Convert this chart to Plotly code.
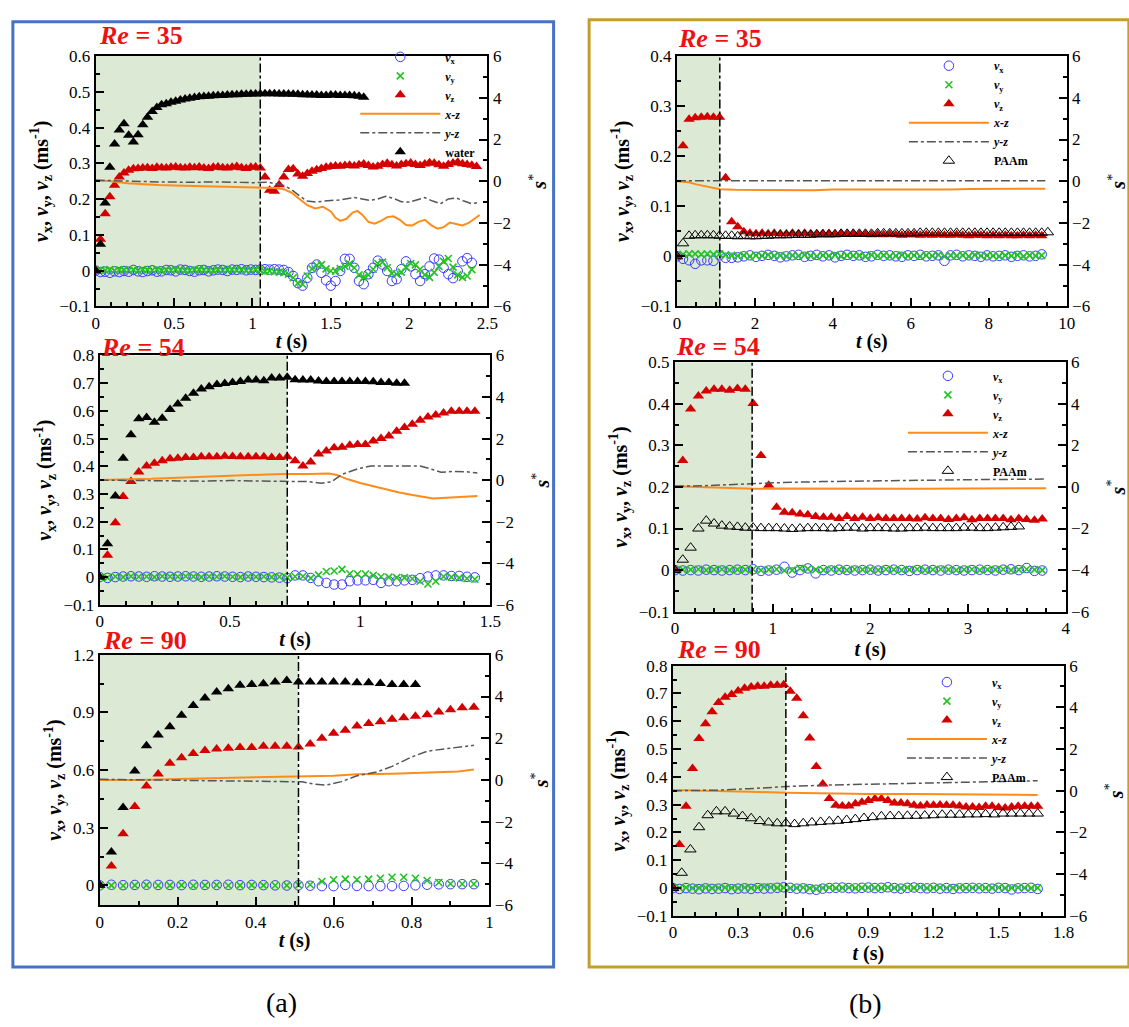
import plotly.graph_objects as go

W, H = 1129, 1027
FONT = "Liberation Serif"

# ======================= DATA =======================
# ---- (a) water, Re = 35 ----
a35_dt = 0.03
a35_water = [0, 0.074, 0.189, 0.289, 0.354, 0.393, 0.411, 0.379, 0.360, 0.380, 0.408,
             0.429, 0.445, 0.456, 0.464, 0.467, 0.471, 0.474, 0.477, 0.480, 0.482,
             0.484, 0.486, 0.487, 0.488, 0.489, 0.490, 0.490, 0.491, 0.492, 0.492,
             0.493, 0.493, 0.494, 0.494, 0.495, 0.495, 0.495, 0.495, 0.494, 0.494,
             0.494, 0.493, 0.493, 0.492, 0.492, 0.491, 0.491, 0.490, 0.490, 0.491,
             0.491, 0.490, 0.490, 0.490, 0.489, 0.488, 0.485]
a35_vz = [0, 0.088, 0.159, 0.207, 0.239, 0.262, 0.273, 0.281, 0.285, 0.286,
          0.287, 0.288, 0.286, 0.289, 0.288, 0.287, 0.289, 0.290, 0.288, 0.287,
          0.289, 0.288, 0.290, 0.287, 0.286, 0.289, 0.290, 0.288, 0.287, 0.289,
          0.291, 0.288, 0.286, 0.289, 0.290, 0.287,
          0.262, 0.225, 0.222, 0.240, 0.262, 0.283, 0.285, 0.270, 0.264,
          0.272, 0.278, 0.282, 0.286, 0.289, 0.291, 0.293, 0.292, 0.294, 0.295,
          0.293, 0.296, 0.298, 0.294, 0.290, 0.292, 0.297, 0.300, 0.296, 0.293,
          0.297, 0.299, 0.301, 0.297, 0.294, 0.298, 0.302, 0.300, 0.296, 0.292,
          0.297, 0.301, 0.303, 0.299, 0.297, 0.295, 0.291]
a35_vx = [0, -0.004, -0.003, -0.006, -0.002, -0.004, -0.001, -0.003, 0.002, -0.002,
          -0.004, -0.001, 0.001, -0.003, -0.002, 0.002, 0.001, -0.002, 0.003, 0.002,
          -0.001, -0.003, 0.001, 0.002, -0.002, 0.001, 0.003, 0.002, -0.001, 0.003,
          0.002, 0.004, 0.001, 0.003, 0.002, 0.003, 0.004, 0.003, 0.004, 0.003,
          0.002, -0.004, -0.015, -0.035, -0.042, -0.020, 0.008, 0.017, -0.006, -0.027,
          -0.042, -0.029, -0.001, 0.033, 0.033, 0.008, -0.029, -0.038, -0.010, 0.008,
          0.028, 0.017, -0.001, -0.029, -0.024, 0.004, 0.026, 0.012, -0.010, -0.029,
          -0.010, 0.012, 0.034, 0.031, 0.008, -0.010, -0.021, -0.001, 0.026, 0.035, 0.022]
a35_vy = [0, 0.002, 0.001, 0.003, 0.000, 0.002, 0.003, 0.001, 0.002, 0.000,
          0.003, 0.002, 0.001, 0.003, 0.000, 0.002, 0.001, 0.003, 0.002, 0.000,
          0.001, 0.002, 0.003, 0.001, 0.002, 0.000, 0.003, 0.001, 0.002, 0.003,
          0.001, 0.002, 0.000, 0.001, 0.003, 0.002, -0.002, -0.001, -0.003, -0.004,
          -0.006, -0.010, -0.020, -0.035, -0.038, -0.015, 0.005, 0.015, 0.017, 0.005,
          -0.001, -0.001, 0.006, 0.012, 0.019, 0.008, -0.012, -0.019, -0.012, 0.004,
          0.020, 0.024, 0.008, -0.008, -0.010, -0.004, 0.010, 0.020, 0.016, 0.004,
          -0.012, -0.019, -0.005, 0.012, 0.026, 0.034, 0.010, -0.012, -0.019, -0.015, 0.003]
a35_xz_t = [0, 0.1, 0.2, 0.3, 0.4, 0.5, 0.6, 0.7, 0.8, 0.9, 1.0, 1.05, 1.1, 1.15, 1.2,
            1.25, 1.3, 1.35, 1.4, 1.45, 1.5, 1.53, 1.56, 1.6, 1.64, 1.67, 1.7, 1.74,
            1.78, 1.82, 1.86, 1.9, 1.94, 1.98, 2.02, 2.06, 2.1, 2.14, 2.18, 2.22,
            2.26, 2.3, 2.34, 2.38, 2.42, 2.45]
a35_xz = [0.05, 0.0, -0.10, -0.15, -0.18, -0.20, -0.22, -0.24, -0.26, -0.28, -0.30,
          -0.30, -0.30, -0.32, -0.38, -0.55, -0.85, -1.15, -1.30, -1.22, -1.45, -1.75,
          -1.90, -1.80, -1.50, -1.42, -1.60, -1.95, -2.03, -1.90, -1.72, -1.68, -1.85,
          -2.10, -2.12, -1.95, -1.85, -2.10, -2.27, -2.20, -1.98, -2.05, -2.12, -2.00,
          -1.78, -1.62]
a35_yz_t = [0, 0.2, 0.4, 0.6, 0.8, 1.0, 1.1, 1.2, 1.25, 1.3, 1.35, 1.4, 1.45, 1.5,
            1.55, 1.6, 1.65, 1.7, 1.75, 1.8, 1.85, 1.9, 1.95, 2.0, 2.05, 2.1, 2.15,
            2.2, 2.25, 2.3, 2.35, 2.4, 2.45]
a35_yz = [0.05, 0.0, -0.03, -0.05, -0.03, -0.07, -0.05, -0.20, -0.40, -0.70, -0.95,
          -1.00, -0.95, -0.92, -0.90, -0.85, -0.78, -0.85, -0.92, -0.85, -0.72, -0.82,
          -0.98, -1.00, -0.90, -0.78, -0.95, -1.08, -0.85, -0.80, -0.95, -1.08, -1.00]
a35_tv = 1.05

# ---- (a) water, Re = 54 ----
a54_dt = 0.03
a54_water = [0, 0.120, 0.293, 0.429, 0.514, 0.572, 0.576, 0.559, 0.573, 0.605, 0.625,
             0.646, 0.664, 0.679, 0.687, 0.695, 0.699, 0.702, 0.706, 0.711, 0.711,
             0.709, 0.719, 0.719, 0.721, 0.712, 0.711, 0.711, 0.708, 0.706, 0.706,
             0.706, 0.706, 0.706, 0.706, 0.705, 0.702, 0.702, 0.700, 0.700]
a54_vz = [0, 0.079, 0.196, 0.291, 0.345, 0.379, 0.401, 0.411, 0.420, 0.427, 0.429,
          0.432, 0.432, 0.434, 0.434, 0.434, 0.436, 0.435, 0.434, 0.434, 0.434,
          0.434, 0.432, 0.432, 0.434, 0.420, 0.401, 0.415, 0.444, 0.455, 0.467,
          0.469, 0.476, 0.479, 0.479, 0.491, 0.500, 0.509, 0.526, 0.540, 0.552,
          0.566, 0.578, 0.585, 0.592, 0.599, 0.599, 0.599, 0.599]
a54_vx = [0, -0.003, 0.000, 0.002, 0.003, 0.002, 0.001, 0.003, 0.002, 0.001, 0.002,
          0.003, 0.002, 0.001, 0.002, 0.003, 0.002, 0.001, 0.000, 0.002, 0.001, 0.000,
          -0.001, -0.002, -0.004, 0.006, 0.006, -0.003, -0.015, -0.021, -0.027, -0.027,
          -0.015, -0.012, -0.012, -0.010, -0.021, -0.015, -0.015, -0.012, -0.010,
          -0.004, 0.002, 0.006, 0.006, 0.004, 0.004, 0.001, -0.001]
a54_vy = [0, -0.002, 0.002, 0.000, 0.003, 0.001, 0.002, 0.000, 0.003, 0.002, 0.001,
          0.003, 0.002, 0.000, 0.002, 0.001, 0.003, 0.001, 0.000, 0.002, 0.001, 0.002,
          0.000, 0.001, -0.002, 0.002, 0.003, -0.004, 0.008, 0.020, 0.022, 0.028,
          0.012, 0.011, 0.011, 0.006, 0.001, 0.000, -0.002, -0.002, -0.006, -0.015,
          -0.025, -0.015, 0.002, 0.000, -0.003, -0.005, -0.008]
a54_xz_t = [0, 0.1, 0.2, 0.3, 0.4, 0.5, 0.6, 0.7, 0.8, 0.85, 0.88, 0.91, 0.95, 1.0,
            1.05, 1.1, 1.15, 1.2, 1.25, 1.28, 1.33, 1.39, 1.45]
a54_xz = [0.0, 0.02, 0.06, 0.12, 0.17, 0.20, 0.25, 0.30, 0.30, 0.32, 0.32, 0.25, 0.05,
          -0.14, -0.30, -0.45, -0.60, -0.72, -0.84, -0.88, -0.85, -0.80, -0.76]
a54_yz_t = [0, 0.2, 0.4, 0.5, 0.6, 0.7, 0.8, 0.85, 0.89, 0.93, 0.99, 1.04, 1.1, 1.17,
            1.23, 1.27, 1.31, 1.36, 1.41, 1.45]
a54_yz = [0.0, -0.03, -0.05, -0.02, -0.05, -0.06, -0.07, -0.15, -0.08, 0.28, 0.54,
          0.68, 0.68, 0.68, 0.68, 0.54, 0.38, 0.42, 0.40, 0.34]
a54_tv = 0.72

# ---- (a) water, Re = 90 ----
a90_dt = 0.03
a90_water = [0, 0.173, 0.405, 0.595, 0.727, 0.783, 0.825, 0.885, 0.936, 0.975, 1.007,
             1.024, 1.041, 1.046, 1.049, 1.059, 1.066, 1.059, 1.059, 1.059, 1.058,
             1.058, 1.054, 1.054, 1.051, 1.046, 1.046, 1.046]
a90_vz = [0, 0.100, 0.269, 0.410, 0.517, 0.580, 0.636, 0.664, 0.686, 0.702, 0.710,
          0.714, 0.717, 0.717, 0.724, 0.724, 0.724, 0.720, 0.736, 0.766, 0.792, 0.808,
          0.829, 0.842, 0.851, 0.864, 0.873, 0.880, 0.888, 0.902, 0.914, 0.924, 0.927]
a90_vx = [0, 0.003, 0.001, 0.002, 0.003, 0.002, 0.002, 0.001, 0.003, 0.002, 0.002,
          0.003, 0.001, 0.002, 0.001, 0.000, -0.001, 0.000, -0.002, -0.004, -0.004,
          0.002, -0.003, -0.004, -0.004, -0.004, -0.003, 0.000, 0.003, 0.005, 0.006,
          0.006, 0.006]
a90_vy = [0, 0.000, -0.002, 0.000, 0.001, -0.001, 0.000, 0.001, -0.002, 0.000, 0.001,
          -0.001, 0.000, 0.001, 0.000, -0.001, 0.000, 0.001, 0.003, 0.020, 0.029, 0.032,
          0.029, 0.032, 0.037, 0.042, 0.042, 0.037, 0.025, 0.015, 0.008, 0.007, 0.007]
a90_xz_t = [0, 0.1, 0.2, 0.3, 0.4, 0.5, 0.6, 0.66, 0.75, 0.84, 0.92, 0.96]
a90_xz = [0.0, 0.0, 0.05, 0.10, 0.13, 0.17, 0.20, 0.27, 0.30, 0.34, 0.41, 0.50]
a90_yz_t = [0, 0.2, 0.4, 0.5, 0.52, 0.55, 0.58, 0.62, 0.66, 0.71, 0.75, 0.80, 0.84,
            0.89, 0.96]
a90_yz = [0.03, -0.03, -0.08, -0.09, -0.09, -0.20, -0.25, -0.08, 0.20, 0.38, 0.65,
          1.10, 1.38, 1.50, 1.66]
a90_tv = 0.51

# ---- (b) PAAm, Re = 35 ----
b35_dt = 0.156
b35_paam = [0, 0.026, 0.041, 0.042, 0.042, 0.042, 0.042, 0.041, 0.041, 0.041, 0.040,
            0.041, 0.040, 0.040, 0.041, 0.041, 0.042, 0.042, 0.042, 0.043, 0.043,
            0.043, 0.043, 0.044, 0.044, 0.044, 0.044, 0.045, 0.045, 0.045, 0.045,
            0.045, 0.045, 0.046, 0.046, 0.046, 0.046, 0.046, 0.046, 0.046, 0.047,
            0.047, 0.047, 0.047, 0.047, 0.047, 0.047, 0.047, 0.047, 0.047, 0.047,
            0.047, 0.047, 0.047, 0.047, 0.047, 0.047, 0.047, 0.047, 0.047, 0.047, 0.048]
b35_vz = [0, 0.221, 0.274, 0.277, 0.278, 0.279, 0.278, 0.278, 0.157, 0.069, 0.059,
          0.049, 0.046, 0.045, 0.046, 0.045, 0.046, 0.045, 0.045, 0.046, 0.045, 0.046,
          0.045, 0.044, 0.045, 0.045, 0.044, 0.045, 0.044, 0.045, 0.044, 0.044,
          0.043, 0.044, 0.043, 0.044, 0.043, 0.042, 0.043, 0.043, 0.042, 0.043,
          0.042, 0.043, 0.042, 0.042, 0.043, 0.042, 0.041, 0.042, 0.042, 0.041,
          0.042, 0.041, 0.042, 0.041, 0.041, 0.042, 0.041, 0.042, 0.041]
b35_vx = [0, -0.005, -0.008, -0.015, -0.008, -0.008, -0.009, 0.002, -0.003, -0.003,
          -0.002, 0.000, 0.002, -0.001, 0.001, 0.003, 0.001, -0.002, 0.000, 0.002,
          0.003, -0.001, 0.001, 0.003, 0.000, 0.002, -0.002, 0.001, 0.003, 0.001,
          0.002, -0.001, 0.000, 0.003, 0.001, 0.002, 0.000, -0.001, 0.002, 0.001,
          0.003, 0.000, 0.001, 0.002, -0.009, 0.002, 0.003, 0.000, 0.002, 0.001,
          -0.001, 0.002, 0.000, 0.001, 0.002, -0.001, 0.001, 0.002, 0.000, 0.001, 0.004]
b35_vy = [0, 0.004, 0.005, 0.005, 0.004, 0.005, 0.004, 0.005, 0.003, 0.002, 0.001,
          0.002, 0.000, 0.002, 0.001, 0.003, 0.001, 0.002, 0.000, 0.002, 0.001, 0.003,
          0.001, 0.000, 0.002, 0.001, 0.003, 0.000, 0.002, 0.001, 0.002, 0.000, 0.003,
          0.001, 0.002, 0.000, 0.001, 0.003, 0.001, 0.002, 0.000, 0.002, 0.001, 0.003,
          0.000, 0.002, 0.001, 0.002, 0.000, 0.003, 0.001, 0.002, 0.001, 0.000, 0.002,
          0.001, 0.003, 0.000, 0.002, 0.001, 0.002]
b35_xz_t = [0, 0.3, 0.5, 0.8, 1.1, 1.5, 2.0, 2.5, 3.0, 3.5, 4.0, 4.5, 5.0, 5.5, 6.0,
            6.5, 7.0, 7.5, 8.0, 8.5, 9.0, 9.45]
b35_xz = [0.0, -0.05, -0.15, -0.28, -0.38, -0.41, -0.42, -0.41, -0.42, -0.43, -0.40,
          -0.41, -0.40, -0.39, -0.40, -0.38, -0.39, -0.37, -0.36, -0.35, -0.36, -0.36]
b35_yz_t = [0, 2, 4, 6, 8, 9.45]
b35_yz = [0.02, 0.02, 0.02, 0.02, 0.02, 0.02]
b35_tv = 1.1

# ---- (b) PAAm, Re = 54 ----
b54_dt = 0.08
b54_paam = [0, 0.025, 0.054, 0.100, 0.119, 0.112, 0.107, 0.105, 0.104, 0.102, 0.102,
            0.101, 0.101, 0.101, 0.100, 0.099, 0.100, 0.101, 0.101, 0.101, 0.100,
            0.101, 0.102, 0.102, 0.100, 0.101, 0.101, 0.101, 0.100, 0.100, 0.101,
            0.101, 0.102, 0.101, 0.101, 0.101, 0.101, 0.102, 0.102, 0.101, 0.101,
            0.102, 0.103, 0.104, 0.105]
b54_vz = [0, 0.264, 0.388, 0.419, 0.431, 0.435, 0.435, 0.433, 0.437, 0.435, 0.401,
          0.276, 0.204, 0.151, 0.139, 0.138, 0.135, 0.133, 0.129, 0.127, 0.127, 0.124,
          0.129, 0.124, 0.127, 0.124, 0.126, 0.124, 0.124, 0.124, 0.124, 0.123, 0.126,
          0.124, 0.124, 0.122, 0.124, 0.126, 0.121, 0.124, 0.124, 0.124, 0.124, 0.121,
          0.124, 0.122, 0.120, 0.123]
b54_vx = [0, -0.001, 0.000, -0.001, 0.001, 0.000, -0.001, 0.000, 0.001, 0.000, 0.002,
          -0.002, -0.001, 0.001, 0.008, -0.006, 0.000, 0.004, -0.008, 0.000, -0.001,
          0.001, 0.000, -0.001, 0.000, 0.001, -0.001, 0.000, 0.001, 0.000, -0.002,
          0.000, 0.001, 0.000, -0.001, 0.001, 0.000, -0.001, 0.000, 0.001, 0.000,
          -0.001, 0.001, 0.002, 0.000, 0.005, -0.002, -0.001]
b54_vy = [0, 0.001, 0.001, 0.002, 0.000, 0.001, 0.002, 0.000, 0.001, 0.001, 0.002,
          0.000, 0.001, 0.002, -0.001, 0.000, 0.004, 0.003, 0.001, 0.000, 0.002, 0.001,
          0.000, 0.002, 0.001, 0.001, 0.000, 0.002, 0.001, 0.000, 0.001, 0.002, 0.000,
          0.001, 0.002, 0.001, 0.000, 0.001, 0.002, 0.000, 0.001, 0.001, 0.002, 0.000,
          0.001, 0.002, 0.001, 0.000]
b54_xz_t = [0, 0.3, 0.6, 0.8, 1.0, 1.5, 1.9, 2.0, 2.5, 3.0, 3.5, 3.8]
b54_xz = [0.04, -0.02, -0.08, -0.09, -0.07, -0.08, -0.10, -0.07, -0.08, -0.07, -0.06, -0.06]
b54_yz_t = [0, 0.3, 0.6, 0.8, 1.0, 1.5, 2.0, 2.5, 3.0, 3.5, 3.8]
b54_yz = [0.04, 0.06, 0.12, 0.17, 0.20, 0.26, 0.30, 0.33, 0.35, 0.37, 0.38]
b54_tv = 0.79

# ---- (b) PAAm, Re = 90 ----
b90_dt = 0.03
b90_dt_paam = 0.04
b90_paam = [0, 0.055, 0.139, 0.219, 0.262, 0.276, 0.276, 0.268, 0.259, 0.251, 0.241,
            0.236, 0.233, 0.233, 0.230, 0.233, 0.236, 0.238, 0.240, 0.242, 0.245,
            0.248, 0.252, 0.255, 0.258, 0.259, 0.259, 0.260, 0.260, 0.261, 0.262,
            0.264, 0.264, 0.264, 0.265, 0.265, 0.266, 0.265, 0.268, 0.268, 0.268,
            0.268, 0.268]
b90_vz = [0, 0.157, 0.294, 0.430, 0.538, 0.591, 0.634, 0.667, 0.686, 0.696, 0.709,
          0.719, 0.723, 0.726, 0.726, 0.729, 0.729, 0.731, 0.708, 0.683, 0.620, 0.540,
          0.437, 0.374, 0.322, 0.298, 0.295, 0.295, 0.303, 0.309, 0.315, 0.321, 0.321,
          0.315, 0.306, 0.306, 0.303, 0.298, 0.295, 0.299, 0.298, 0.299, 0.298, 0.298,
          0.295, 0.292, 0.292, 0.290, 0.294, 0.294, 0.290, 0.288, 0.292, 0.294, 0.294,
          0.294, 0.294]
b90_vx = [0, -0.003, 0.000, -0.002, -0.004, -0.001, -0.003, -0.002, 0.000, -0.004,
          -0.002, -0.001, -0.003, 0.000, -0.002, -0.001, 0.001, 0.003, 0.001, -0.002,
          -0.001, -0.004, -0.006, -0.002, 0.000, 0.001, 0.002, 0.000, -0.001, 0.001,
          0.002, 0.000, 0.001, 0.003, 0.000, -0.002, 0.001, 0.002, 0.000, -0.001,
          0.001, -0.002, 0.000, -0.003, -0.001, 0.000, 0.001, -0.001, 0.000, -0.002,
          0.001, 0.000, -0.005, -0.001, 0.000, 0.001, -0.003]
b90_vy = [0, 0.001, 0.002, 0.000, 0.001, 0.002, 0.000, 0.001, 0.002, 0.001, 0.000,
          0.002, 0.001, 0.002, 0.004, 0.003, 0.001, 0.002, 0.000, 0.001, 0.002, 0.000,
          -0.003, 0.001, 0.002, 0.000, 0.001, 0.002, 0.000, 0.001, 0.002, 0.001, 0.000,
          0.002, 0.001, 0.000, 0.002, 0.001, 0.003, 0.000, 0.001, 0.002, 0.000, 0.001,
          0.002, 0.000, 0.001, 0.002, 0.000, 0.001, 0.002, 0.000, 0.001, 0.002, 0.001,
          0.000, 0.001]
b90_xz_t = [0, 0.2, 0.4, 0.52, 0.7, 0.9, 1.1, 1.3, 1.5, 1.68]
b90_xz = [0.04, 0.0, -0.06, -0.10, -0.14, -0.15, -0.16, -0.18, -0.18, -0.20]
b90_yz_t = [0, 0.2, 0.35, 0.52, 0.7, 0.9, 1.1, 1.3, 1.5, 1.68]
b90_yz = [0.0, 0.03, 0.10, 0.20, 0.27, 0.32, 0.37, 0.41, 0.44, 0.48]
b90_tv = 0.52

re_labels = ["35", "54", "90", "35", "54", "90"]
panel_labels = ["(a)", "(b)"]
fluid_names = ["water", "PAAm"]


def grid(n, dt):
    return [round(i * dt, 4) for i in range(n)]


# ======================= PANELS =======================
panels = [
    dict(vx=(grid(len(a35_vx), a35_dt), a35_vx), vy=(grid(len(a35_vy), a35_dt), a35_vy),
         vz=(grid(len(a35_vz), a35_dt), a35_vz), fl=(grid(len(a35_water), a35_dt), a35_water),
         xz=(a35_xz_t, a35_xz), yz=(a35_yz_t, a35_yz), tv=a35_tv, fluid=0, re=re_labels[0]),
    dict(vx=(grid(len(a54_vx), a54_dt), a54_vx), vy=(grid(len(a54_vy), a54_dt), a54_vy),
         vz=(grid(len(a54_vz), a54_dt), a54_vz), fl=(grid(len(a54_water), a54_dt), a54_water),
         xz=(a54_xz_t, a54_xz), yz=(a54_yz_t, a54_yz), tv=a54_tv, fluid=0, re=re_labels[1]),
    dict(vx=(grid(len(a90_vx), a90_dt), a90_vx), vy=(grid(len(a90_vy), a90_dt), a90_vy),
         vz=(grid(len(a90_vz), a90_dt), a90_vz), fl=(grid(len(a90_water), a90_dt), a90_water),
         xz=(a90_xz_t, a90_xz), yz=(a90_yz_t, a90_yz), tv=a90_tv, fluid=0, re=re_labels[2]),
    dict(vx=(grid(len(b35_vx), b35_dt), b35_vx), vy=(grid(len(b35_vy), b35_dt), b35_vy),
         vz=(grid(len(b35_vz), b35_dt), b35_vz), fl=(grid(len(b35_paam), b35_dt), b35_paam),
         xz=(b35_xz_t, b35_xz), yz=(b35_yz_t, b35_yz), tv=b35_tv, fluid=1, re=re_labels[3]),
    dict(vx=(grid(len(b54_vx), b54_dt), b54_vx), vy=(grid(len(b54_vy), b54_dt), b54_vy),
         vz=(grid(len(b54_vz), b54_dt), b54_vz), fl=(grid(len(b54_paam), b54_dt), b54_paam),
         xz=(b54_xz_t, b54_xz), yz=(b54_yz_t, b54_yz), tv=b54_tv, fluid=1, re=re_labels[4]),
    dict(vx=(grid(len(b90_vx), b90_dt), b90_vx), vy=(grid(len(b90_vy), b90_dt), b90_vy),
         vz=(grid(len(b90_vz), b90_dt), b90_vz), fl=(grid(len(b90_paam), b90_dt_paam), b90_paam),
         xz=(b90_xz_t, b90_xz), yz=(b90_yz_t, b90_yz), tv=b90_tv, fluid=1, re=re_labels[5]),
]

# ======================= STYLE / LAYOUT =======================
styles = [
    dict(box=(93, 490, 48, 303), xr=[0, 2.5], xd=0.5, xm=0.1, yr=[-0.1, 0.6], yd=0.1, ym=0.05,
         re_xy=(94, 27), legend="legend", leg_xy=(356, 34)),
    dict(box=(97, 493, 353, 607), xr=[0, 1.5], xd=0.5, xm=0.1, yr=[-0.1, 0.8], yd=0.1, ym=0.05,
         re_xy=(96, 345), legend=None, leg_xy=None),
    dict(box=(97, 492, 658, 913), xr=[0, 1.0], xd=0.2, xm=0.1, yr=[-0.103, 1.2], yd=0.3, ym=0.15,
         re_xy=(98, 643), legend=None, leg_xy=None),
    dict(box=(682, 1077, 48, 303), xr=[0, 10], xd=2, xm=0.5, yr=[-0.1, 0.4], yd=0.1, ym=0.05,
         re_xy=(681, 30), legend="legend2", leg_xy=(912, 43)),
    dict(box=(680, 1076, 360, 614), xr=[0, 4], xd=1, xm=0.2, yr=[-0.1, 0.5], yd=0.1, ym=0.05,
         re_xy=(679, 344), legend="legend3", leg_xy=(911, 359)),
    dict(box=(678, 1074, 669, 924), xr=[0, 1.8], xd=0.3, xm=0.1, yr=[-0.1, 0.8], yd=0.1, ym=0.05,
         re_xy=(680, 653), legend="legend4", leg_xy=(910, 671)),
]

C_VX, C_VY, C_VZ = "#3a3aff", "#22c322", "#d40000"
C_XZ, C_YZ = "#ff8c1a", "#555555"
SHADE = "#dce9d4"

fig = go.Figure()
layout = dict(width=W, height=H, margin=dict(l=0, r=0, t=0, b=0),
              paper_bgcolor="white", plot_bgcolor="white",
              font=dict(family=FONT, size=17, color="black"),
              shapes=[], annotations=[], showlegend=True)

tick_font = dict(family=FONT, size=17, color="black")
common = dict(ticks="inside", ticklen=8, tickwidth=2, tickcolor="black",
              showline=True, linewidth=2, linecolor="black", showgrid=False,
              zeroline=False, tickfont=tick_font)


def px_x(v):
    return v / W


def px_y(v):
    return 1 - v / H


for k, (p, s) in enumerate(zip(panels, styles), start=1):
    xa = "xaxis" if k == 1 else f"xaxis{k}"
    xref = "x" if k == 1 else f"x{k}"
    li, ri = 2 * k - 1, 2 * k
    yl = "yaxis" if li == 1 else f"yaxis{li}"
    ylref = "y" if li == 1 else f"y{li}"
    yr = f"yaxis{ri}"
    yrref = f"y{ri}"
    x0, x1, y0, y1 = s["box"]

    layout[xa] = dict(domain=[px_x(x0), px_x(x1)], anchor=ylref, range=s["xr"],
                      tick0=0, dtick=s["xd"], mirror=True,
                      minor=dict(ticks="inside", ticklen=4, tickwidth=1.5,
                                 tickcolor="black", tick0=0, dtick=s["xm"]),
                      title=dict(text="<b><i>t</i> (s)</b>",
                                 font=dict(family=FONT, size=20), standoff=2),
                      **common)
    layout[yl] = dict(domain=[px_y(y1), px_y(y0)], anchor=xref, range=s["yr"],
                      tick0=0, dtick=s["yd"],
                      minor=dict(ticks="inside", ticklen=4, tickwidth=1.5,
                                 tickcolor="black", tick0=0, dtick=s["ym"]),
                      title=dict(text="<b><i>v</i><sub>x</sub>, <i>v</i><sub>y</sub>, "
                                      "<i>v</i><sub>z</sub> (ms<sup>-1</sup>)</b>",
                                 font=dict(family=FONT, size=20), standoff=6),
                      **common)
    layout[yr] = dict(overlaying=ylref, side="right", anchor=xref, range=[-6, 6],
                      tick0=0, dtick=2,
                      minor=dict(ticks="inside", ticklen=4, tickwidth=1.5,
                                 tickcolor="black", tick0=0, dtick=1),
                      title=dict(text="<b><i>s</i></b><sup>*</sup>",
                                 font=dict(family=FONT, size=20), standoff=22),
                      **common)

    # shaded acceleration region + dash-dot marker
    layout["shapes"].append(dict(type="rect", xref=xref, yref=f"{ylref} domain",
                                 x0=0, x1=p["tv"], y0=0, y1=1, fillcolor=SHADE,
                                 line=dict(width=0), layer="below"))
    layout["shapes"].append(dict(type="line", xref=xref, yref=f"{ylref} domain",
                                 x0=p["tv"], x1=p["tv"], y0=0, y1=1,
                                 line=dict(color="black", width=1.5, dash="dashdot")))

    rx, ry = s["re_xy"]
    layout["annotations"].append(dict(
        xref="paper", yref="paper", x=px_x(rx), y=px_y(ry), xanchor="left", yanchor="middle",
        text=f"<b><i>Re</i> = {p['re']}</b>", showarrow=False,
        font=dict(family=FONT, size=26, color="#ee1111")))

    lg = s["legend"]
    show = lg is not None
    extra = dict(legend=lg) if show else {}
    fl_name = fluid_names[p["fluid"]]

    fig.add_trace(go.Scatter(
        x=p["vx"][0], y=p["vx"][1], mode="markers", xaxis=xref, yaxis=ylref,
        name="<b><i>v</i><sub>x</sub></b>", showlegend=show,
        marker=dict(symbol="circle-open", size=9.5, color=C_VX, line=dict(width=1, color=C_VX)),
        **extra))
    fig.add_trace(go.Scatter(
        x=p["vy"][0], y=p["vy"][1], mode="markers", xaxis=xref, yaxis=ylref,
        name="<b><i>v</i><sub>y</sub></b>", showlegend=show,
        marker=dict(symbol="x-thin", size=7, color=C_VY, line=dict(width=1.6, color=C_VY)),
        **extra))
    fig.add_trace(go.Scatter(
        x=p["vz"][0], y=p["vz"][1], mode="markers", xaxis=xref, yaxis=ylref,
        name="<b><i>v</i><sub>z</sub></b>", showlegend=show,
        marker=dict(symbol="triangle-up", size=10, color=C_VZ, line=dict(width=0)),
        **extra))
    fig.add_trace(go.Scatter(
        x=p["xz"][0], y=p["xz"][1], mode="lines", xaxis=xref, yaxis=yrref,
        name="<b><i>x-z</i></b>", showlegend=show,
        line=dict(color=C_XZ, width=2), **extra))
    fig.add_trace(go.Scatter(
        x=p["yz"][0], y=p["yz"][1], mode="lines", xaxis=xref, yaxis=yrref,
        name="<b><i>y-z</i></b>", showlegend=show,
        line=dict(color=C_YZ, width=1.5, dash="dashdot"), **extra))
    if p["fluid"] == 0:
        fmark = dict(symbol="triangle-up", size=10, color="black", line=dict(width=0))
    else:
        fmark = dict(symbol="triangle-up-open", size=10, color="black",
                     line=dict(width=1, color="black"))
    fig.add_trace(go.Scatter(
        x=p["fl"][0], y=p["fl"][1], mode="markers", xaxis=xref, yaxis=ylref,
        name=f"<b>{fl_name}</b>", showlegend=show, marker=fmark, **extra))

    if show:
        lx, ly = s["leg_xy"]
        layout[lg] = dict(x=px_x(lx), y=px_y(ly), xanchor="left", yanchor="top",
                          bgcolor="rgba(0,0,0,0)", borderwidth=0,
                          font=dict(family=FONT, size=12, color="black"),
                          itemwidth=80, tracegroupgap=0, traceorder="normal")

# panel frames
layout["shapes"].append(dict(type="rect", xref="paper", yref="paper",
                             x0=px_x(9), x1=px_x(557), y0=px_y(976), y1=px_y(13),
                             line=dict(color="#4472c4", width=3), fillcolor="rgba(0,0,0,0)",
                             layer="above"))
layout["shapes"].append(dict(type="rect", xref="paper", yref="paper",
                             x0=px_x(593), x1=px_x(1140), y0=px_y(976), y1=px_y(11),
                             line=dict(color="#c59d2a", width=3), fillcolor="rgba(0,0,0,0)",
                             layer="above"))
for lab, (lx, ly) in zip(panel_labels, [(281, 1012), (873, 1013)]):
    layout["annotations"].append(dict(xref="paper", yref="paper", x=px_x(lx), y=px_y(ly),
                                      xanchor="center", yanchor="middle", text=lab,
                                      showarrow=False,
                                      font=dict(family=FONT, size=28, color="black")))

fig.update_layout(layout)
fig.write_html("out.html")
